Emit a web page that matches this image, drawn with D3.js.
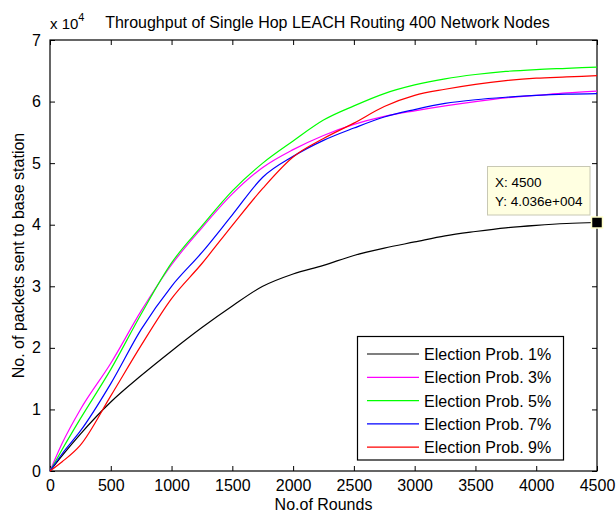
<!DOCTYPE html>
<html><head><meta charset="utf-8">
<script src="https://cdn.jsdelivr.net/npm/d3@7"></script>
<style>
html,body{margin:0;padding:0;background:#fff;}
text{font-family:"Liberation Sans",Arial,sans-serif;}
</style></head>
<body>
<svg id="chart" width="616" height="516"></svg>
<script>
const rounds = [0,100,250,500,750,1000,1250,1500,1750,2000,2250,2500,2750,3000,3250,3500,3750,4000,4250,4500];
const p1 = [0,0.25,0.60,1.12,1.55,1.95,2.33,2.68,3.00,3.20,3.34,3.50,3.62,3.72,3.82,3.89,3.95,3.99,4.02,4.036];
const p3 = [0,0.45,1.00,1.75,2.60,3.35,3.95,4.50,4.93,5.22,5.45,5.63,5.76,5.85,5.93,6.00,6.06,6.10,6.14,6.17];
const p5 = [0,0.35,0.85,1.65,2.55,3.38,3.98,4.55,5.00,5.36,5.70,5.93,6.13,6.27,6.37,6.44,6.49,6.52,6.54,6.56];
const p7 = [0,0.28,0.65,1.42,2.30,3.00,3.55,4.16,4.77,5.11,5.37,5.57,5.75,5.87,5.97,6.03,6.07,6.10,6.12,6.13];
const p9 = [0,0.15,0.42,1.22,2.04,2.80,3.37,3.99,4.59,5.10,5.40,5.65,5.92,6.10,6.20,6.28,6.34,6.38,6.40,6.42];
const seriesNames = ["Election Prob. 1%","Election Prob. 3%","Election Prob. 5%","Election Prob. 7%","Election Prob. 9%"];
const seriesColors = ["#000000","#ff00ff","#00ff00","#0000ff","#ff0000"];
const xTicks = [0,500,1000,1500,2000,2500,3000,3500,4000,4500];
const yTicks = [0,1,2,3,4,5,6,7];
const tipX = 4500, tipY = 4.036;

const svg = d3.select("#chart");
const L=50, R=597, T=40, B=471;
const x = d3.scaleLinear().domain([0,4500]).range([L,R]);
const y = d3.scaleLinear().domain([0,7]).range([B,T]);
const fs = 16;

// axes
const gx = svg.append("g").attr("transform",`translate(0,${B})`)
  .call(d3.axisBottom(x).tickValues(xTicks).tickSizeInner(-5).tickSizeOuter(0).tickPadding(9).tickFormat(d3.format("d")));
const gxt = svg.append("g").attr("transform",`translate(0,${T})`)
  .call(d3.axisTop(x).tickValues(xTicks).tickSizeInner(-5).tickSizeOuter(0).tickFormat(""));
const gy = svg.append("g").attr("transform",`translate(${L},0)`)
  .call(d3.axisLeft(y).tickValues(yTicks).tickSizeInner(-5).tickSizeOuter(0).tickPadding(9).tickFormat(d3.format("d")));
const gyr = svg.append("g").attr("transform",`translate(${R},0)`)
  .call(d3.axisRight(y).tickValues(yTicks).tickSizeInner(-5).tickSizeOuter(0).tickFormat(""));
[gx,gxt,gy,gyr].forEach(g=>{
  g.select(".domain").remove();
  g.selectAll("line").attr("stroke","#000").attr("stroke-width",1);
  g.selectAll("text").attr("fill","#000").style("font-size",fs+"px").style("font-family",'"Liberation Sans",Arial,sans-serif');
});

svg.append("rect").attr("x",L).attr("y",T).attr("width",R-L).attr("height",B-T)
  .attr("fill","none").attr("stroke","#000").attr("stroke-width",1.2);

// lines
const allSeries = [p1,p3,p5,p7,p9];
const line = d3.line().x((d,i)=>x(rounds[i])).y(d=>y(d)).curve(d3.curveMonotoneX);
allSeries.forEach((s,k)=>{
  svg.append("path").datum(s).attr("d",line)
    .attr("fill","none").attr("stroke",seriesColors[k]).attr("stroke-width",1.2);
});

// exponent label
const ex = svg.append("text").attr("x",L).attr("y",T-11).style("font-size","15px").attr("fill","#000");
ex.append("tspan").text("x 10");
ex.append("tspan").attr("dy",-8).style("font-size","11px").text("4");

// title
svg.append("text").attr("x",(L+R)/2+4).attr("y",T-12).attr("text-anchor","middle")
  .style("font-size","16px").attr("fill","#000")
  .text("Throughput of Single Hop LEACH Routing 400 Network Nodes");

// axis labels
svg.append("text").attr("x",(L+R)/2).attr("y",510).attr("text-anchor","middle")
  .style("font-size",fs+"px").attr("fill","#000").text("No.of Rounds");
svg.append("text").attr("transform",`translate(24,${(T+B)/2}) rotate(-90)`).attr("text-anchor","middle")
  .style("font-size",fs+"px").attr("fill","#000").text("No. of packets sent to base station");

// legend
const lg = svg.append("g");
lg.append("rect").attr("x",357.5).attr("y",336.5).attr("width",206).attr("height",123.5)
  .attr("fill","#fff").attr("stroke","#000").attr("stroke-width",1.2);
seriesNames.forEach((n,i)=>{
  const yy = 354 + i*23.3;
  lg.append("line").attr("x1",367).attr("x2",419).attr("y1",yy).attr("y2",yy)
    .attr("stroke",seriesColors[i]).attr("stroke-width",1.2);
  lg.append("text").attr("x",424).attr("y",yy+6).style("font-size",fs+"px").attr("fill","#000").text(n);
});

// data tip
const tx = x(tipX), ty = y(tipY);
svg.append("rect").attr("x",487.5).attr("y",166.5).attr("width",102.5).attr("height",48.5)
  .attr("fill","#ffffe1").attr("stroke","#c8c8b4").attr("stroke-width",1);
svg.append("text").attr("x",495).attr("y",187).style("font-size","13.5px").attr("fill","#000").text("X: " + tipX);
svg.append("text").attr("x",495).attr("y",206).style("font-size","13.5px").attr("fill","#000").text("Y: 4.036e+004");
svg.append("rect").attr("x",tx-5.5).attr("y",ty-5.5).attr("width",11).attr("height",11)
  .attr("fill","#000").attr("stroke","#ffffc8").attr("stroke-width",1.5);
</script>
</body></html>
